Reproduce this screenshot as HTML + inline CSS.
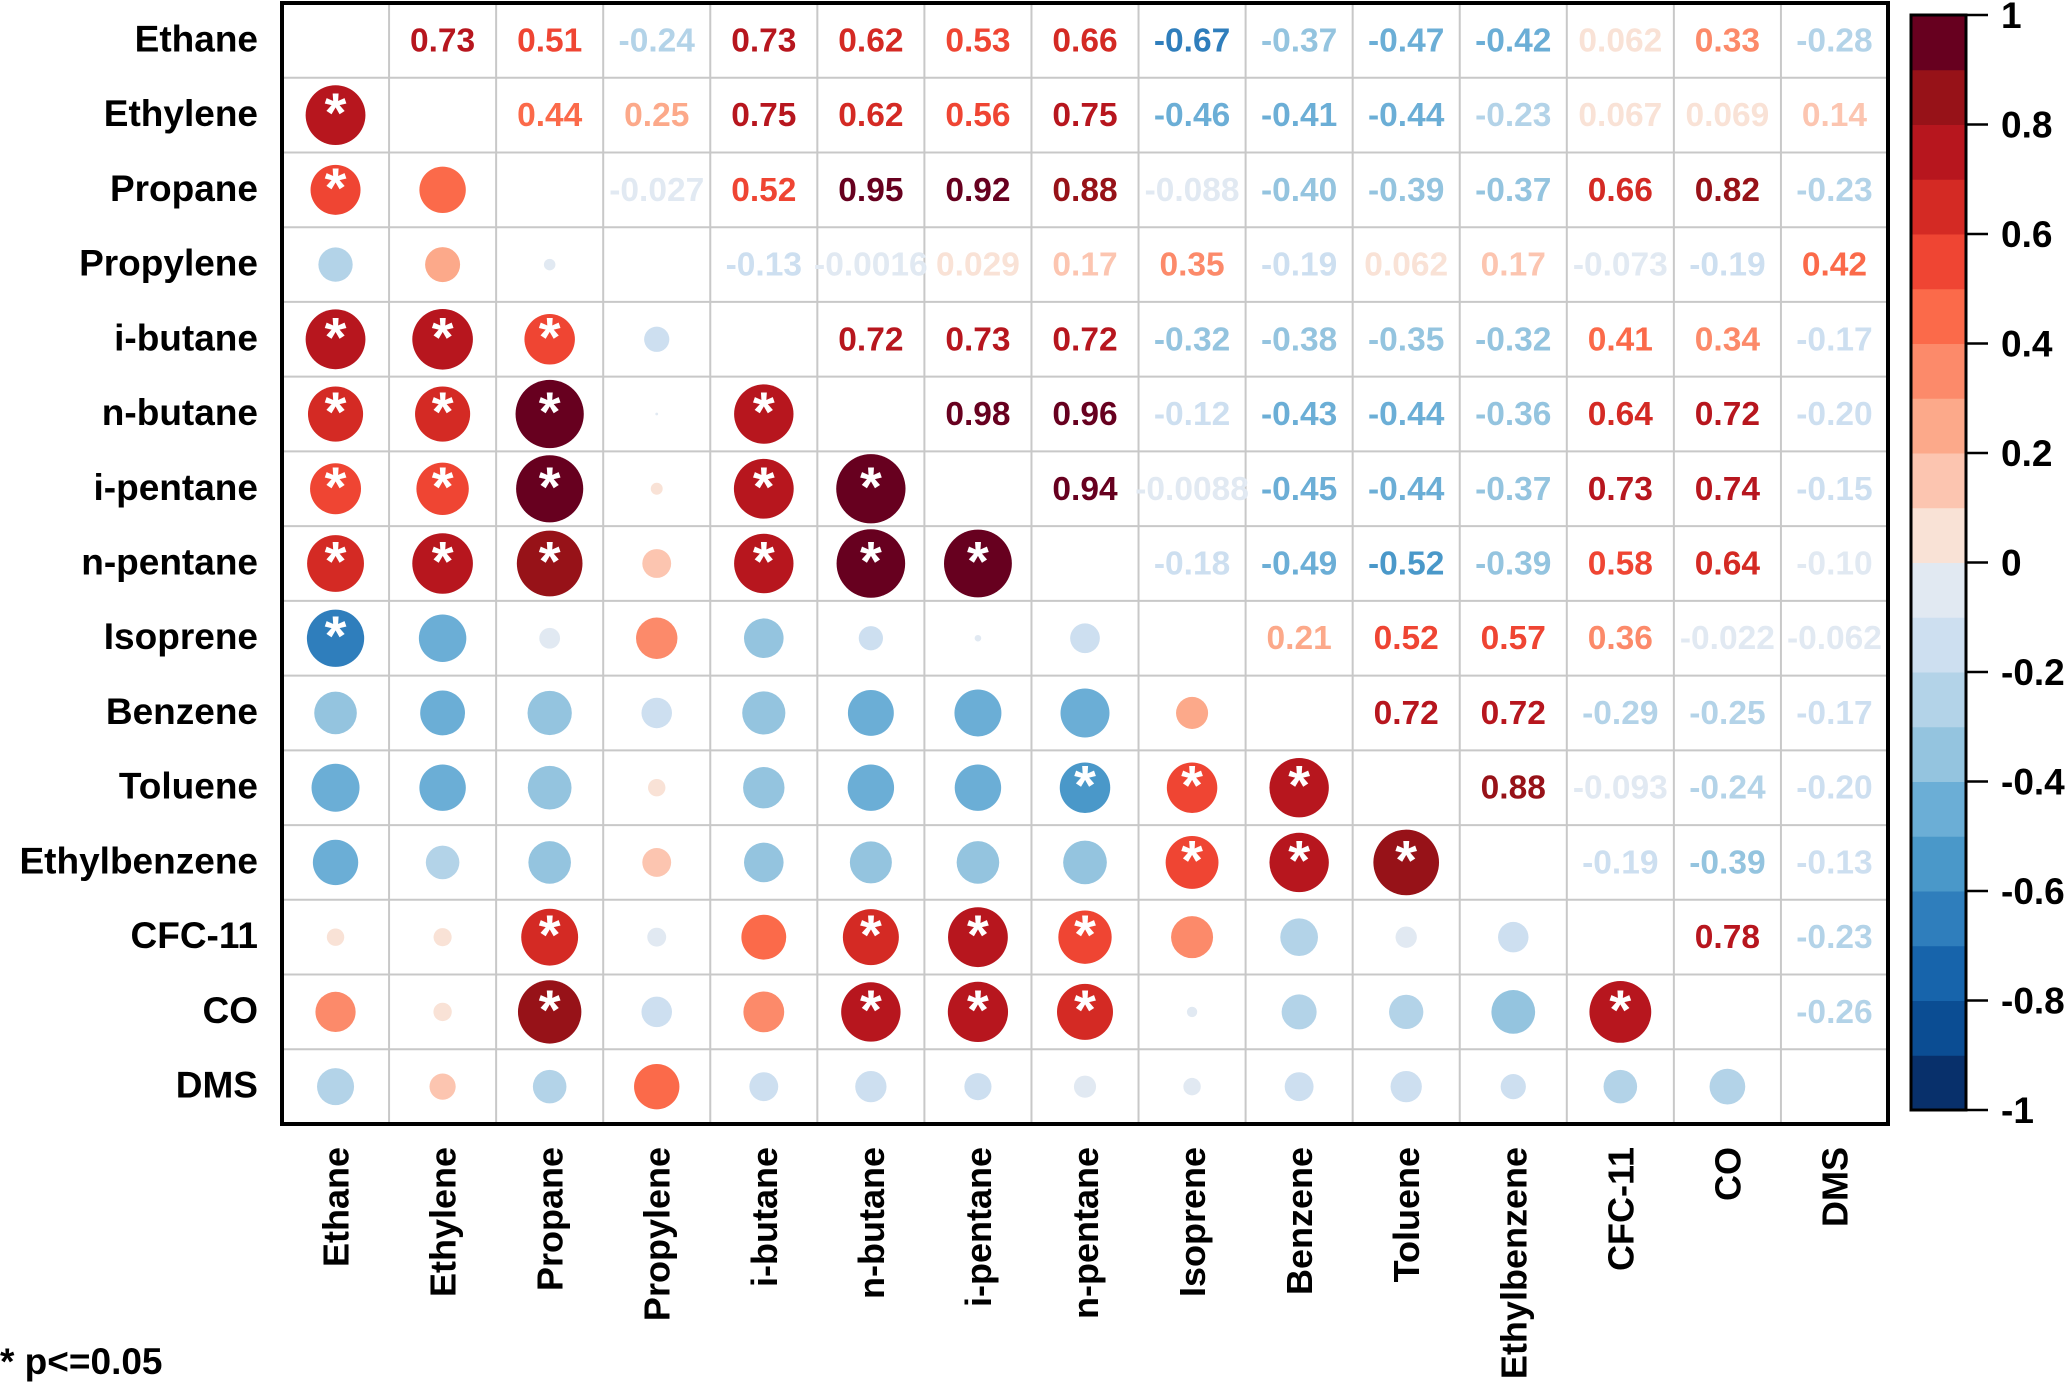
<!DOCTYPE html>
<html><head><meta charset="utf-8"><style>
html,body{margin:0;padding:0;background:#fff;}
svg{display:block;font-family:"Liberation Sans",Arial,sans-serif;font-weight:bold;}
</style></head><body>
<svg id="chart" width="2067" height="1384" viewBox="0 0 2067 1384" xmlns="http://www.w3.org/2000/svg">
<g id="grid"></g>
<g id="marks"></g>
<g id="labels"></g>
<g id="legend"></g>
<text x="0" y="1374" font-size="37">* p&lt;=0.05</text>
</svg>
<script>
const variables = ["Ethane","Ethylene","Propane","Propylene","i-butane","n-butane","i-pentane","n-pentane","Isoprene","Benzene","Toluene","Ethylbenzene","CFC-11","CO","DMS"];
const upperValues = [
 [0.73,0.51,-0.24,0.73,0.62,0.53,0.66,-0.67,-0.37,-0.47,-0.42,0.062,0.33,-0.28],
 [0.44,0.25,0.75,0.62,0.56,0.75,-0.46,-0.41,-0.44,-0.23,0.067,0.069,0.14],
 [-0.027,0.52,0.95,0.92,0.88,-0.088,-0.40,-0.39,-0.37,0.66,0.82,-0.23],
 [-0.13,-0.0016,0.029,0.17,0.35,-0.19,0.062,0.17,-0.073,-0.19,0.42],
 [0.72,0.73,0.72,-0.32,-0.38,-0.35,-0.32,0.41,0.34,-0.17],
 [0.98,0.96,-0.12,-0.43,-0.44,-0.36,0.64,0.72,-0.20],
 [0.94,-0.0088,-0.45,-0.44,-0.37,0.73,0.74,-0.15],
 [-0.18,-0.49,-0.52,-0.39,0.58,0.64,-0.10],
 [0.21,0.52,0.57,0.36,-0.022,-0.062],
 [0.72,0.72,-0.29,-0.25,-0.17],
 [0.88,-0.093,-0.24,-0.20],
 [-0.19,-0.39,-0.13],
 [0.78,-0.23],
 [-0.26]
];
const valueLabels = [
 ["0.73","0.51","-0.24","0.73","0.62","0.53","0.66","-0.67","-0.37","-0.47","-0.42","0.062","0.33","-0.28"],
 ["0.44","0.25","0.75","0.62","0.56","0.75","-0.46","-0.41","-0.44","-0.23","0.067","0.069","0.14"],
 ["-0.027","0.52","0.95","0.92","0.88","-0.088","-0.40","-0.39","-0.37","0.66","0.82","-0.23"],
 ["-0.13","-0.0016","0.029","0.17","0.35","-0.19","0.062","0.17","-0.073","-0.19","0.42"],
 ["0.72","0.73","0.72","-0.32","-0.38","-0.35","-0.32","0.41","0.34","-0.17"],
 ["0.98","0.96","-0.12","-0.43","-0.44","-0.36","0.64","0.72","-0.20"],
 ["0.94","-0.0088","-0.45","-0.44","-0.37","0.73","0.74","-0.15"],
 ["-0.18","-0.49","-0.52","-0.39","0.58","0.64","-0.10"],
 ["0.21","0.52","0.57","0.36","-0.022","-0.062"],
 ["0.72","0.72","-0.29","-0.25","-0.17"],
 ["0.88","-0.093","-0.24","-0.20"],
 ["-0.19","-0.39","-0.13"],
 ["0.78","-0.23"],
 ["-0.26"]
];
const significantPairs = [
 [1,0],[2,0],[4,0],[4,1],[4,2],[5,0],[5,1],[5,2],[5,4],
 [6,0],[6,1],[6,2],[6,4],[6,5],[7,0],[7,1],[7,2],[7,4],[7,5],[7,6],
 [8,0],[10,7],[10,8],[10,9],[11,8],[11,9],[11,10],
 [12,2],[12,5],[12,6],[12,7],[13,2],[13,5],[13,6],[13,7],[13,12]
];
const legendTicks = [1,0.8,0.6,0.4,0.2,0,-0.2,-0.4,-0.6,-0.8,-1];
const legendTickLabels = ["1","0.8","0.6","0.4","0.2","0","-0.2","-0.4","-0.6","-0.8","-1"];
const palette = ["#08306B","#0B4D93","#1764AB","#2F7EBC","#4A98C9","#6BAED6","#94C4DF","#B3D3E8","#CDDFF0","#E1E9F2",
                 "#F9E2D6","#FCC5B0","#FCA98A","#FC8A6A","#FB6A4A","#EF4533","#D42A24","#B7161E","#971218","#67001F"];

const NS="http://www.w3.org/2000/svg";
const GX0=282, GX1=1888, GY0=3, GY1=1124, N=variables.length;
const CW=(GX1-GX0)/N, CH=(GY1-GY0)/N, RMAX=35;
function xCenter(j){return GX0+CW*(j+0.5);}
function yCenter(i){return GY0+CH*(i+0.5);}
function colorOf(v){let k=Math.floor((v+1)*10);if(k>19)k=19;if(k<0)k=0;return palette[k];}
function radiusOf(v){return RMAX*Math.sqrt(Math.abs(v));}
function mk(tag,attrs,parent){const e=document.createElementNS(NS,tag);for(const k in attrs)e.setAttribute(k,attrs[k]);parent.appendChild(e);return e;}
function corr(i,j){return i<j?upperValues[i][j-i-1]:upperValues[j][i-j-1];}

const grid=document.getElementById('grid'), marks=document.getElementById('marks'), labels=document.getElementById('labels'), legend=document.getElementById('legend');
for(let k=1;k<N;k++){
  const vl=mk('line',{x1:GX0+CW*k,x2:GX0+CW*k,y1:GY0,y2:GY1,stroke:'#C8C8C8','stroke-width':2},grid);
  
  
  const hl=mk('line',{x1:GX0,x2:GX1,y1:GY0+CH*k,y2:GY0+CH*k,stroke:'#C8C8C8','stroke-width':2},grid);
  
  
}
const sig=new Set(significantPairs.map(p=>p[0]+','+p[1]));
for(let i=0;i<N;i++){
  for(let j=0;j<N;j++){
    if(i===j)continue;
    if(i<j){
      const v=upperValues[i][j-i-1];
      const t=mk('text',{x:xCenter(j),y:yCenter(i)+11,'text-anchor':'middle','font-size':33.5,fill:colorOf(v)},marks);
      t.textContent=valueLabels[i][j-i-1];
      
      
    } else {
      const v=corr(i,j);
      const c=mk('circle',{cx:xCenter(j),cy:yCenter(i),r:radiusOf(v),fill:colorOf(v)},marks);
      
      
      if(sig.has(i+','+j)){
        const s=mk('text',{x:xCenter(j),y:yCenter(i)+17,'text-anchor':'middle','font-size':56,fill:'#fff'},marks);
        s.textContent='*';
        
        
      }
    }
  }
}
const border=mk('rect',{x:GX0,y:GY0,width:GX1-GX0,height:GY1-GY0,fill:'none',stroke:'#000','stroke-width':4},grid);


for(let i=0;i<N;i++){
  const t=mk('text',{x:258,y:yCenter(i)+11,'text-anchor':'end','font-size':37},labels);
  t.textContent=variables[i];
  
  
  const c=mk('text',{x:0,y:0,'text-anchor':'end','font-size':36,transform:'translate('+(xCenter(i)+13)+',1147) rotate(-90)'},labels);
  c.textContent=variables[i];
  
  
}
// legend
const LX0=1911, LX1=1966, LY0=15, LY1=1110;
function legendY(v){return LY0+(1-v)/2*(LY1-LY0);}
for(let k=0;k<20;k++){
  const lo=-1+k*0.1, hi=lo+0.1;
  const r=mk('rect',{x:LX0,y:legendY(hi),width:LX1-LX0,height:legendY(lo)-legendY(hi)+0.5,fill:palette[k]},legend);
  
  
}
const lb=mk('rect',{x:LX0,y:LY0,width:LX1-LX0,height:LY1-LY0,fill:'none',stroke:'#000','stroke-width':3},legend);


legendTicks.forEach((v,k)=>{
  const tl=mk('line',{x1:LX1,x2:1988,y1:legendY(v),y2:legendY(v),stroke:'#000','stroke-width':2.5},legend);
  
  
  const tt=mk('text',{x:2001,y:legendY(v)+13,'font-size':37},legend);
  tt.textContent=legendTickLabels[k];
  
  
});
</script>
</body></html>
